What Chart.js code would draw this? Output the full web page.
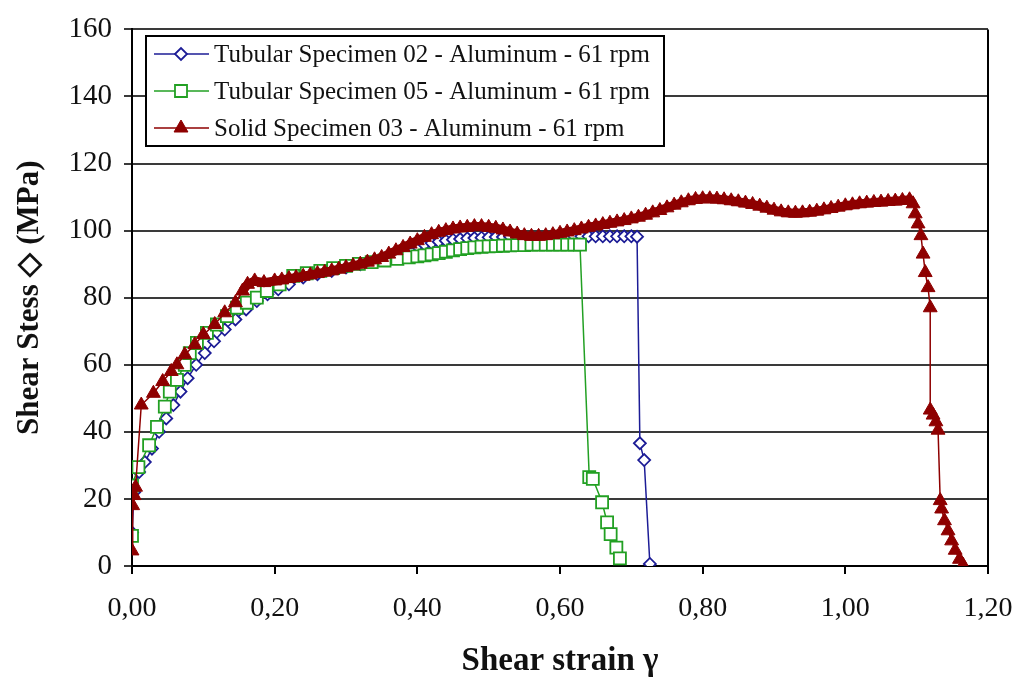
<!DOCTYPE html>
<html>
<head>
<meta charset="utf-8">
<script src="https://cdn.jsdelivr.net/npm/chart.js@4.4.0/dist/chart.umd.min.js"></script>
<style>
  html, body { margin: 0; padding: 0; background: #fff; }
</style>
</head>
<body>
<canvas id="chart" width="1016" height="681"></canvas>
<script>
/* ==========================================================
   DATA
   ==========================================================*/
const seriesLabels = [
  "Tubular Specimen 02 - Aluminum - 61 rpm",
  "Tubular Specimen 05 - Aluminum - 61 rpm",
  "Solid Specimen 03 - Aluminum - 61 rpm",
];

// Tubular 02 (blue diamonds)
const blueX = [0.000, 0.003, 0.010, 0.018, 0.028, 0.038, 0.048, 0.058, 0.068, 0.078,
  0.090, 0.102, 0.115, 0.130, 0.145, 0.160, 0.175, 0.190, 0.205, 0.220,
  0.240, 0.260, 0.280, 0.300, 0.320, 0.340, 0.360, 0.380, 0.400,
  0.41, 0.42, 0.43, 0.44, 0.45, 0.46, 0.47, 0.48, 0.49, 0.50,
  0.51, 0.52, 0.53, 0.54, 0.55, 0.56, 0.57, 0.58, 0.59, 0.60,
  0.61, 0.62, 0.63, 0.64, 0.65, 0.66, 0.67, 0.68, 0.69, 0.70,
  0.708, 0.712, 0.718, 0.726];
const blueY = [10, 22, 28, 31, 35, 40, 44, 48, 52, 56,
  60, 63.5, 67, 70.5, 73.5, 76.5, 79, 81, 82.5, 84,
  86, 87, 88, 89, 90, 91, 92.5, 94, 95.3,
  95.8, 96.3, 96.7, 97.0, 97.3, 97.5, 97.7, 97.8, 97.9, 98,
  98.1, 98.1, 98.2, 98.2, 98.2, 98.2, 98.3, 98.3, 98.3, 98.3,
  98.3, 98.3, 98.3, 98.3, 98.3, 98.3, 98.3, 98.3, 98.3, 98.3,
  98.2, 36.6, 31.6, 0.6];

// Tubular 05 (green squares)
const greenX = [0.000, 0.000, 0.009, 0.024, 0.035, 0.046, 0.053, 0.063, 0.074, 0.081,
  0.091, 0.105, 0.119, 0.133, 0.147, 0.161, 0.175, 0.189, 0.207, 0.226,
  0.245, 0.264, 0.282, 0.300, 0.318, 0.336, 0.354, 0.372, 0.388, 0.400,
  0.41, 0.42, 0.43, 0.44, 0.45, 0.46, 0.47, 0.48, 0.49, 0.50,
  0.51, 0.52, 0.53, 0.54, 0.55, 0.56, 0.57, 0.58, 0.59, 0.60,
  0.61, 0.62, 0.628,
  0.641, 0.646, 0.659, 0.666, 0.671, 0.679, 0.684];
const greenY = [9, 24, 29.5, 36, 41.5, 47.5, 52, 55.5, 60, 63.5,
  66.5, 69.5, 72, 74.5, 77, 78.5, 80, 82, 84, 86.5,
  87.3, 88, 88.8, 89.5, 90.1, 90.6, 91.1, 91.6, 92.0, 92.3,
  92.6, 92.9, 93.3, 93.7, 94.1, 94.5, 94.8, 95.0, 95.2, 95.3,
  95.4, 95.5, 95.6, 95.7, 95.7, 95.8, 95.8, 95.8, 95.8, 95.8,
  95.8, 95.8, 95.8,
  26.5, 26, 19, 13, 9.5, 5.5, 2.3];

// Solid 03 (red triangles)
const redX = [0.000, 0.001, 0.003, 0.005, 0.013, 0.030, 0.043, 0.055, 0.063, 0.074,
  0.088, 0.100, 0.116, 0.130, 0.145, 0.155, 0.162, 0.172, 0.185, 0.200,
  0.21, 0.22, 0.23, 0.24, 0.25, 0.26, 0.27, 0.28, 0.29, 0.30,
  0.31, 0.32, 0.33, 0.34, 0.35, 0.36, 0.37, 0.38, 0.39, 0.40,
  0.41, 0.42, 0.43, 0.44, 0.45, 0.46, 0.47, 0.48, 0.49, 0.50,
  0.51, 0.52, 0.53, 0.54, 0.55, 0.56, 0.57, 0.58, 0.59, 0.60,
  0.61, 0.62, 0.63, 0.64, 0.65, 0.66, 0.67, 0.68, 0.69, 0.70,
  0.71, 0.72, 0.73, 0.74, 0.75, 0.76, 0.77, 0.78, 0.79, 0.80,
  0.81, 0.82, 0.83, 0.84, 0.85, 0.86, 0.87, 0.88, 0.89, 0.90,
  0.91, 0.92, 0.93, 0.94, 0.95, 0.96, 0.97, 0.98, 0.99, 1.00,
  1.01, 1.02, 1.03, 1.04, 1.05, 1.06, 1.07, 1.08, 1.09,
  1.095, 1.098, 1.102, 1.106, 1.109, 1.112, 1.116, 1.119, 1.119, 1.123,
  1.127, 1.130, 1.133, 1.135, 1.139, 1.144, 1.149, 1.154, 1.160, 1.165];
const redY = [4.5, 18, 21, 23.5, 48, 51.5, 55, 58, 60, 63,
  66, 69, 72, 75.5, 78.5, 82, 84, 85, 84.5, 85,
  85.3, 85.7, 86.0, 86.4, 86.8, 87.2, 87.6, 88.0, 88.5, 89.0,
  89.5, 90.0, 90.6, 91.3, 92.0, 93.0, 94.0, 95.0, 96.0, 97.0,
  98.0, 98.8, 99.5, 100.0, 100.5, 100.8, 101.0, 101.2, 101.2, 101.0,
  100.7, 100.2, 99.6, 99.0, 98.5, 98.3, 98.3, 98.5, 98.8, 99.2,
  99.6, 100.0, 100.5, 101.0, 101.4, 101.8, 102.2, 102.6, 103.0, 103.5,
  104.0, 104.6, 105.3, 106.0, 106.8, 107.6, 108.3, 108.9, 109.3, 109.5,
  109.5, 109.4, 109.2, 108.9, 108.6, 108.2, 107.8, 107.3, 106.7, 106.1,
  105.6, 105.3, 105.2, 105.3, 105.5, 105.8, 106.2, 106.6, 107.0, 107.4,
  107.7, 108.0, 108.2, 108.4, 108.5, 108.7, 108.8, 109.0, 109.2,
  108, 105, 102, 98.5, 93, 87.5, 83, 77, 46.5, 45,
  43, 40.5, 19.5, 17, 13.5, 10.5, 7.5, 4.7, 2, 0.3];

const xMin = 0, xMax = 1.2, xStep = 0.2;
const yMin = 0, yMax = 160, yStep = 20;

/* ==========================================================
   HELPERS
   ==========================================================*/
const SERIF = "'Liberation Serif', 'Times New Roman', serif";
const RED = "#8e0000";

function toPoints(xs, ys) {
  return xs.map((x, i) => ({ x, y: ys[i] }));
}

// the solid specimen's markers are packed so tightly they read as a band
function redSegmentWidth(ctx) {
  const a = ctx.p0.parsed, b = ctx.p1.parsed;
  const dense = a.x >= 0.15 && b.x <= 1.096 && a.y > 75 && b.y > 75;
  return dense ? 9 : 1.5;
}

/* ==========================================================
   PLUGINS: frame + boxed legend inside the plot
   ==========================================================*/
const rightFrame = {
  id: "rightFrame",
  beforeDatasetsDraw(chart) {
    const { ctx, chartArea } = chart;
    ctx.save();
    ctx.strokeStyle = "#000";
    ctx.lineWidth = 2;
    ctx.beginPath();
    ctx.moveTo(chartArea.right, chartArea.top);
    ctx.lineTo(chartArea.right, chartArea.bottom);
    ctx.stroke();
    ctx.restore();
  },
};

const boxLegend = {
  id: "boxLegend",
  afterDatasetsDraw(chart) {
    const ctx = chart.ctx;
    const box = { x: 146, y: 36, w: 518, h: 110 };
    ctx.save();
    ctx.fillStyle = "#fff";
    ctx.fillRect(box.x, box.y, box.w, box.h);
    ctx.strokeStyle = "#000";
    ctx.lineWidth = 2;
    ctx.strokeRect(box.x, box.y, box.w, box.h);

    chart.data.datasets.forEach((ds, i) => {
      const y = 54 + i * 37;
      ctx.strokeStyle = ds.pointBorderColor;
      ctx.lineWidth = 1.5;
      ctx.beginPath();
      ctx.moveTo(154, y);
      ctx.lineTo(209, y);
      ctx.stroke();

      ctx.fillStyle = ds.pointBackgroundColor;
      ctx.strokeStyle = ds.pointBorderColor;
      ctx.lineWidth = ds.pointBorderWidth;
      Chart.helpers.drawPoint(ctx, {
        pointStyle: ds.pointStyle,
        radius: ds.pointRadius,
        borderWidth: ds.pointBorderWidth,
        rotation: 0,
      }, 181, y);

      ctx.fillStyle = "#111";
      ctx.font = "25px " + SERIF;
      ctx.textAlign = "left";
      ctx.textBaseline = "middle";
      ctx.fillText(ds.label, 214, y + 1);
    });
    ctx.restore();
  },
};

/* ==========================================================
   CHART
   ==========================================================*/
new Chart(document.getElementById("chart"), {
  type: "scatter",
  data: {
    datasets: [
      {
        label: seriesLabels[0],
        data: toPoints(blueX, blueY),
        showLine: true,
        borderColor: "#1c1c96",
        borderWidth: 1.5,
        pointStyle: "rectRot",
        pointRadius: 6,
        pointBackgroundColor: "#fff",
        pointBorderColor: "#1c1c96",
        pointBorderWidth: 1.8,
        order: 2,
      },
      {
        label: seriesLabels[1],
        data: toPoints(greenX, greenY),
        showLine: true,
        borderColor: "#22a023",
        borderWidth: 1.5,
        pointStyle: "rect",
        pointRadius: 8.5,
        pointBackgroundColor: "#fff",
        pointBorderColor: "#22a023",
        pointBorderWidth: 1.8,
        order: 1,
      },
      {
        label: seriesLabels[2],
        data: toPoints(redX, redY),
        showLine: true,
        borderColor: RED,
        borderWidth: 1.5,
        segment: { borderWidth: redSegmentWidth },
        pointStyle: "triangle",
        pointRadius: 8,
        pointBackgroundColor: RED,
        pointBorderColor: RED,
        pointBorderWidth: 1,
        order: 0,
      },
    ],
  },
  options: {
    responsive: false,
    animation: false,
    devicePixelRatio: 1,
    layout: { padding: { left: 0, right: 28, top: 20, bottom: 0 } },
    plugins: {
      legend: { display: false },
      tooltip: { enabled: false },
    },
    scales: {
      x: {
        type: "linear",
        min: xMin,
        max: xMax,
        afterFit: (s) => {
          s.height = 115;
          s.paddingLeft = 0;
          s.paddingRight = 0;
        },
        ticks: {
          stepSize: xStep,
          color: "#111",
          font: { family: SERIF, size: 28 },
          padding: 18,
          callback: (v) => v.toFixed(2).replace(".", ","),
        },
        grid: {
          drawOnChartArea: false,
          drawTicks: true,
          tickLength: 8,
          color: "#000",
          lineWidth: 2,
        },
        border: { display: true, color: "#000", width: 2 },
        title: {
          display: true,
          text: "Shear strain \u03b3",
          color: "#111",
          font: { family: SERIF, size: 33, weight: "bold" },
          padding: { top: 0, bottom: 0 },
        },
      },
      y: {
        min: yMin,
        max: yMax,
        afterFit: (s) => { s.width = 132; },
        ticks: {
          stepSize: yStep,
          color: "#111",
          font: { family: SERIF, size: 29 },
          padding: 12,
        },
        grid: {
          color: "#3a3a3a",
          lineWidth: 2,
          tickLength: 8,
        },
        border: { display: true, color: "#000", width: 2 },
        title: {
          display: true,
          text: "Shear Stess \u25C7 (MPa)",
          color: "#111",
          font: { family: SERIF, size: 31, weight: "bold" },
          padding: { top: 11, bottom: 0 },
        },
      },
    },
  },
  plugins: [rightFrame, boxLegend],
});
</script>
</body>
</html>
